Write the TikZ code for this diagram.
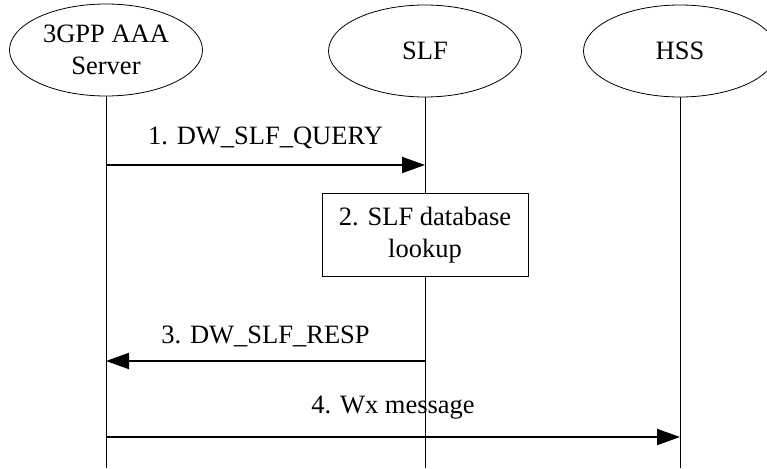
\documentclass[tikz,border=0pt]{standalone}
\usepackage{fontspec}
\setmainfont{Liberation Serif}
\usetikzlibrary{shapes.geometric,arrows.meta}

\tikzset{
  entity/.style={draw, ellipse, line width=0.8pt, minimum width=193pt, minimum height=92pt, align=center, inner sep=0pt},
  lifeline/.style={line width=1pt},
  msg/.style={line width=2pt, -{Triangle[length=23pt, width=16pt]}},
  msglabel/.style={anchor=base, yshift=21pt, inner sep=0pt},
  action/.style={draw, line width=1pt, minimum width=206pt, minimum height=83pt, align=center, fill=white}
}

\begin{document}
\begin{tikzpicture}[x=1pt, y=-1pt, font=\fontsize{26.5}{32}\selectfont]
		%%%%% START %%%%%
		\useasboundingbox (0,0) rectangle (767,468);
		
		\node[entity] (aaa) at (106,50) {3GPP AAA\\Server};
		\node[entity] (slf) at (425,51) {SLF};
		\node[entity] (hss) at (680,51) {HSS};
		
		\coordinate (aaaend) at (106,468);
		\coordinate (slfend) at (425,468);
		\coordinate (hssend) at (680,468);
		\draw[lifeline] (aaa) -- (aaaend);
		\draw[lifeline] (slf) -- (slfend);
		\draw[lifeline] (hss) -- (hssend);
		
		\node[action] (lookup) at (425,235) {2. SLF database\\lookup};
		
		\coordinate (q1) at (106,165);
		\coordinate (q2) at (425,165);
		\draw[msg] (q1) -- node[msglabel] (query) {1. DW\_SLF\_QUERY} (q2);
		
		\coordinate (r1) at (425,361);
		\coordinate (r2) at (106,361);
		\draw[msg] (r1) -- node[msglabel, yshift=-3pt] (resp) {3. DW\_SLF\_RESP} (r2);
		
		\coordinate (w1) at (106,437);
		\coordinate (w2) at (680,437);
		\draw[msg] (w1) -- node[msglabel, yshift=3pt] (wx) {4. Wx message} (w2);
		
		%%%%% END %%%%%
	\end{tikzpicture}
\end{document}
